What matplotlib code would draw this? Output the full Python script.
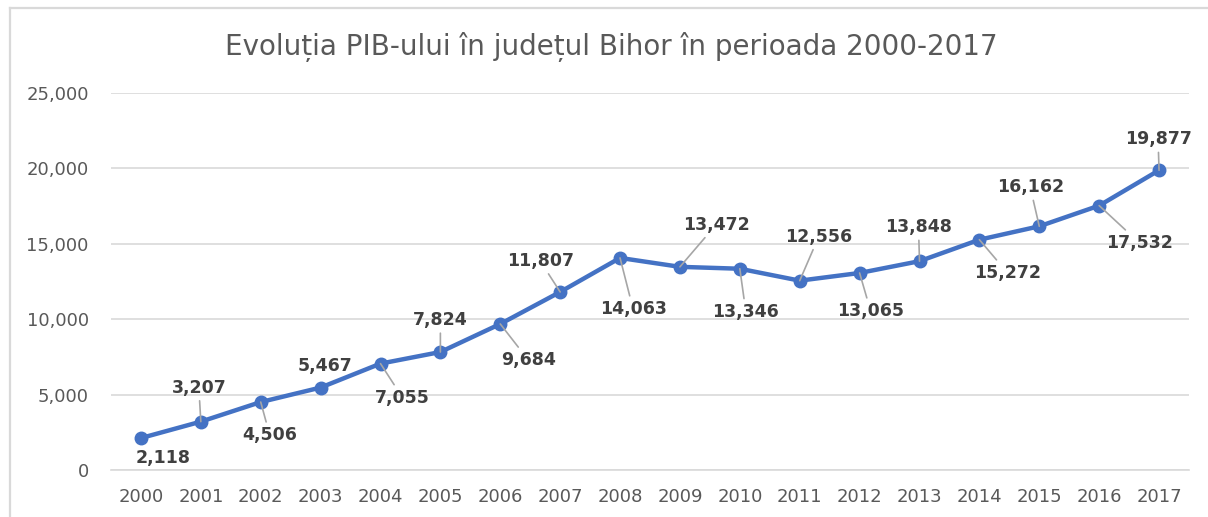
import matplotlib.pyplot as plt
from matplotlib.lines import Line2D
from matplotlib.ticker import FuncFormatter

# PIB judetul Bihor, 2000-2017
years = [str(y) for y in range(2000, 2018)]
pib = [2118, 3207, 4506, 5467, 7055, 7824, 9684, 11807, 14063,
       13472, 13346, 12556, 13065, 13848, 15272, 16162, 17532, 19877]

# label offsets in pixels (dx, dy) relative to each point, as placed in the original
label_offsets = [(22, -20), (-2, 34), (9, -33), (4, 22), (22, -34), (0, 32),
                 (28, -36), (-20, 31), (13, -51), (36, 42), (6, -43), (19, 44),
                 (11, -38), (-1, 34), (28, -33), (-9, 39), (40, -37), (-1, 31)]
no_leader = {0, 3}

W, H = 1208, 517
fig = plt.figure(figsize=(W / 100, H / 100), dpi=100)
fig.patch.set_facecolor('white')

# chart frame (cut off at right and bottom like the screenshot)
top = 1 - 8 / H
left = 10 / W
fig.lines.append(Line2D([left, 1.01], [top, top], transform=fig.transFigure,
                        color='#d9d9d9', lw=1.6))
fig.lines.append(Line2D([left, left], [-0.01, top], transform=fig.transFigure,
                        color='#d9d9d9', lw=1.6))

ax = fig.add_axes([111 / W, 1 - 470 / H, (1189 - 111) / W, (470 - 93) / H])
x = list(range(len(years)))
ax.plot(x, pib, color='#4472C4', lw=3.2, marker='o', markersize=9, zorder=3)

for i, v in enumerate(pib):
    dx, dy = label_offsets[i]
    arrow = None if i in no_leader else dict(arrowstyle='-', color='#a6a6a6', lw=1.2,
                                              shrinkA=1, shrinkB=0)
    ax.annotate(f'{v:,}', xy=(i, v), xytext=(dx, dy), textcoords='offset pixels',
                ha='center', va='center', fontsize=12.5, fontweight='bold',
                color='#404040', arrowprops=arrow, zorder=4)

ax.set_xlim(-0.5, len(years) - 0.5)
ax.set_ylim(0, 25000)
ax.set_yticks(range(0, 25001, 5000))
ax.yaxis.set_major_formatter(FuncFormatter(lambda v, p: f'{int(v):,}'))
ax.set_xticks(x)
ax.set_xticklabels(years)
ax.tick_params(axis='both', length=0, labelsize=13, colors='#595959')
ax.tick_params(axis='x', pad=13)
ax.tick_params(axis='y', pad=16)
ax.grid(axis='y', color='#d9d9d9', lw=1.2)
ax.set_axisbelow(True)
for s in ['top', 'right', 'left']:
    ax.spines[s].set_visible(False)
ax.spines['bottom'].set_color('#d9d9d9')
ax.spines['bottom'].set_linewidth(1.2)

fig.text(611 / W, 1 - 47 / H, 'Evoluția PIB-ului în județul Bihor în perioada 2000-2017',
         ha='center', va='center', fontsize=20, color='#595959')

fig.savefig('out.png', dpi=100)
